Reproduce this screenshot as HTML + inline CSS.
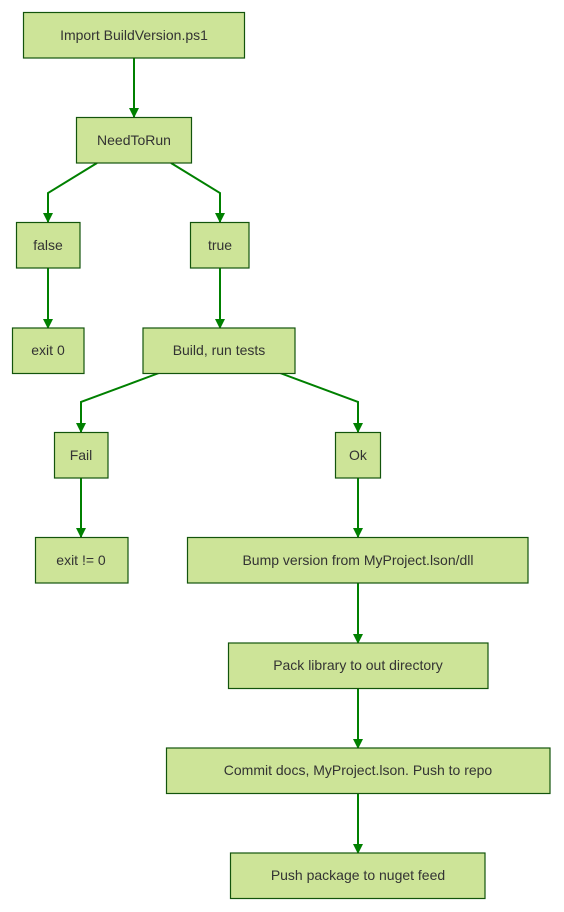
<!DOCTYPE html>
<html><head><meta charset="utf-8"><style>
html,body{margin:0;padding:0;background:#fff;width:564px;height:912px;overflow:hidden}
text{font-family:"Liberation Sans",sans-serif;font-size:14px;fill:#333}
</style></head><body>
<svg width="564" height="912" viewBox="0 0 564 912" xmlns="http://www.w3.org/2000/svg">
<defs><marker id="a" viewBox="0 0 10 10" refX="9" refY="5" markerWidth="10" markerHeight="10" markerUnits="userSpaceOnUse" orient="auto"><path d="M0,0L10,5L0,10z" fill="#008000"/></marker></defs>
<g fill="none" stroke="#008000" stroke-width="2" marker-end="url(#a)">
<path d="M134,58V117"/>
<path d="M97,163L48,193V222"/>
<path d="M171,163L220,193V222"/>
<path d="M48,268V328"/>
<path d="M220,268V328"/>
<path d="M159,373L81,402V432"/>
<path d="M280,373L358,402V432"/>
<path d="M81,478V537"/>
<path d="M358,478V537"/>
<path d="M358,583V643"/>
<path d="M358,688V748"/>
<path d="M358,793V853"/>
</g>
<g fill="#cde498" stroke="#13540c" stroke-width="1.2">
<rect x="23.5" y="12.5" width="221" height="45.5"/>
<rect x="76.5" y="117.5" width="115" height="45.5"/>
<rect x="16.5" y="222.5" width="63.5" height="45.5"/>
<rect x="190.5" y="222.5" width="58.5" height="45.5"/>
<rect x="12.5" y="328" width="71.5" height="45.5"/>
<rect x="143" y="328" width="152" height="45.5"/>
<rect x="54.5" y="432.5" width="53.5" height="45.5"/>
<rect x="335.5" y="432.5" width="45" height="45.5"/>
<rect x="35.5" y="537.5" width="92.5" height="45.5"/>
<rect x="187.5" y="537.5" width="340.5" height="45.5"/>
<rect x="228.5" y="643" width="259.5" height="45.5"/>
<rect x="166.5" y="748" width="383.5" height="45.5"/>
<rect x="230.5" y="853" width="254.5" height="45.5"/>
</g>
<g text-anchor="middle">
<text x="134" y="40">Import BuildVersion.ps1</text>
<text x="134" y="145">NeedToRun</text>
<text x="48" y="250">false</text>
<text x="220" y="250">true</text>
<text x="48" y="355">exit 0</text>
<text x="219" y="355">Build, run tests</text>
<text x="81" y="460">Fail</text>
<text x="358" y="460">Ok</text>
<text x="81" y="565">exit != 0</text>
<text x="358" y="565">Bump version from MyProject.lson/dll</text>
<text x="358" y="670">Pack library to out directory</text>
<text x="358" y="775">Commit docs, MyProject.lson. Push to repo</text>
<text x="358" y="880">Push package to nuget feed</text>
</g>
</svg>
</body></html>
